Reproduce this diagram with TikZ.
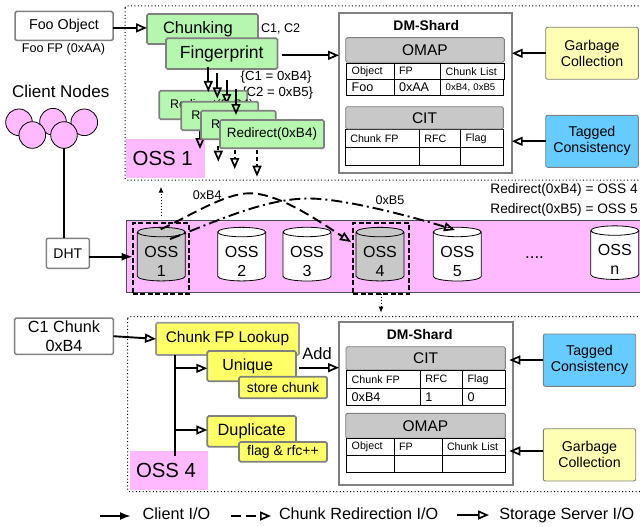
\documentclass[tikz,border=0pt]{standalone}
\usepackage{fontspec}
\setmainfont{Liberation Sans}
\usetikzlibrary{arrows.meta,shapes.geometric,positioning}
\definecolor{fgreen}{HTML}{B6F7B0}
\definecolor{fyellow}{HTML}{FFFF66}
\definecolor{fcream}{HTML}{FFFFB3}
\definecolor{fblue}{HTML}{66CCFF}
\definecolor{fpink}{HTML}{FFB9FF}
\definecolor{fgray}{HTML}{C8C8C8}
\definecolor{fedge}{HTML}{808080}
\newcommand{\fs}[2]{\fontsize{#1}{#2}\selectfont}
\tikzset{
  flat/.style={inner sep=0pt,outer sep=0pt},
  greenbox/.style={flat,draw=fedge,line width=1.7pt,rounded corners=1.5pt,fill=fgreen,font=\fs{16.5}{18}},
  yellowbox/.style={greenbox,fill=fyellow},
  whitebox/.style={greenbox,fill=white,line width=1.5pt},
  sidebox/.style={flat,draw=fedge,line width=.9pt,rounded corners=2pt,align=center,font=\fs{14.2}{16}},
  headbox/.style={flat,draw=fedge,line width=.9pt,rounded corners=1.5pt,fill=fgray,font=\fs{15.5}{18}},
  cell/.style={flat,draw,line width=.9pt,anchor=north west,align=left,inner xsep=5pt,font=\fs{10.7}{12}},
  bigcell/.style={cell,font=\fs{12.6}{14}},
  store/.style={flat,cylinder,shape border rotate=90,aspect=.28,draw,line width=.8pt,align=center,font=\fs{16}{19}},
  tag/.style={flat,fill=fpink},
  tagtext/.style={flat,anchor=west,font=\fs{20.4}{22}},
  note/.style={flat,font=\fs{12.6}{14}},
  client/.style={-{Latex[length=11pt,width=8pt]},line width=1.9pt},
  server/.style={-{Triangle[open,length=11pt,width=9pt,line width=1.7pt]},line width=1.9pt},
  redirect/.style={server,dash pattern=on 10pt off 5pt},
  hop/.style={-{Latex[length=6pt,width=5pt]},line width=1pt,dash pattern=on 1pt off 2pt},
  frame/.style={line width=1pt,dash pattern=on 1pt off 2.4pt,rounded corners=2pt},
  pick/.style={flat,draw,line width=2pt,dash pattern=on 5pt off 2.5pt,minimum width=56pt,minimum height=71pt,anchor=north west},
  legend/.style={flat,anchor=west,font=\fs{16.2}{18}},
}
\begin{document}
\begin{tikzpicture}[x=1pt,y=-1pt]
\useasboundingbox (0,0) rectangle (640,527);

\draw[frame] (125,6) rectangle (642,180);
\node[tag,minimum width=79pt,minimum height=38.7pt] (ossonetag) at (165.5,158.3) {};
\node[tagtext] (ossone) at (132.7,158) {OSS 1};

\node[whitebox,minimum width=98pt,minimum height=29pt,font=\fs{14.3}{16}] (foo) at (64,26) {Foo Object};
\node[note] (foofp) at (63.5,49.5) {Foo FP (0xAA)};
\node[greenbox,minimum height=30pt,anchor=north west,text width=79pt,inner xsep=16pt,align=left] (chunking) at (147,14) {\raisebox{2pt}{Chunking}};
\node[note,anchor=west] (cpair) at (261,28.5) {C1, C2};
\node[greenbox,minimum width=111.5pt,minimum height=30.7pt,anchor=north west,font=\fs{17.5}{19}] (fingerprint) at (166,38.3) {Fingerprint};
\node[note,anchor=west,font=\fs{13.2}{15}] (cfpa) at (240.7,76.7) {\{C1 = 0xB4\}};
\node[note,anchor=west,font=\fs{13.2}{15}] (cfpb) at (242.3,93) {\{C2 = 0xB5\}};

\node[greenbox,minimum width=88pt,minimum height=28.6pt,anchor=north west] (reda) at (159.3,90.7) {};
\node[flat,anchor=west,font=\fs{12.5}{14}] (redatext) at (170,105) {Redirect(0xB4)};
\foreach \x/\a/\b in {208.3/66.7/92,217.3/73/98.5,226.7/80/105}
  \draw[server] (\x,\a) -- (\x,\b);
\coordinate (dropa) at (200,128);
\coordinate (dropb) at (200,149);
\draw[server] (dropa) -- (dropb);
\foreach \name/\x/\y/\w in {redb/181.3/101.7/77,redc/201/110.7/74.7}{
  \node[greenbox,minimum width=\w pt,minimum height=28.6pt,anchor=north west] (\name) at (\x,\y) {};
  \node[flat,font=\fs{12.5}{14},anchor=west] (\name text) at ([xshift=10pt]\name.west) {Redirect(0xB4)};
}
\draw[server] (236,89.3) -- (236,115);
\foreach \x/\a/\b in {218.3/146/161.7,234.7/150/169,257/150/176.7}
  \draw[server,dash pattern=on 4pt off 3pt] (\x,\a) -- (\x,\b);
\node[greenbox,minimum width=104pt,minimum height=28.3pt,anchor=north west,font=\fs{13.5}{15}] (redd) at (220,120) {Redirect(0xB4)};

\node[flat,draw=fedge,line width=1.7pt,minimum width=172.7pt,minimum height=160pt,anchor=north west] (dmtop) at (339,13.3) {};
\node[flat,font=\bfseries\fs{13.9}{15}] (dmtoptext) at (426.3,26) {DM-Shard};
\node[headbox,minimum width=158.6pt,minimum height=24.6pt,anchor=north west] (omaptop) at (345.7,37.7) {OMAP};
\foreach \name/\x/\y/\w/\h/\s/\t in {
  obja/346.7/63.3/37.3/16/cell/Object,fpa/394/63.3/36.7/16/cell/FP,cla/440.7/63.3/53.3/16/cell/Chunk List,
  objb/346.7/79.3/37.3/16/bigcell/Foo,fpb/394/79.3/36.7/16/bigcell/0xAA,
  rfhead/345.3/129.3/64/18.4/cell/Chunk FP,rfrfc/419.3/129.3/31.4/18.4/cell/RFC,rfflag/460.7/129.3/32.6/18.4/cell/Flag,
  cfpx/345.3/147.7/64/17.6/cell/,rfcx/419.3/147.7/31.4/17.6/cell/,flagx/460.7/147.7/32.6/17.6/cell/}
  \node[\s,text width=\w pt,minimum height=\h pt] (\name) at (\x,\y) {\t};
\node[cell,text width=52.6pt,minimum height=16pt,font=\fs{9.6}{11}] (clb) at (440.7,79.3) {0xB4, 0xB5};
\node[headbox,minimum width=157.6pt,minimum height=22.3pt,anchor=north west] (cittop) at (345.7,106.7) {CIT};
\node[sidebox,fill=fcream,minimum width=92.6pt,minimum height=52pt,anchor=north west] (gctop) at (545.7,27.3) {Garbage\\Collection};
\node[sidebox,fill=fblue,minimum width=92.6pt,minimum height=52pt,anchor=north west] (tctop) at (545.7,115.3) {Tagged\\Consistency};

\draw[server] (foo.east) ++(0,1.9) -- (chunking.west |- 0,27.9);
\coordinate (fpout) at (281.7,55.3);
\draw[server] (fpout) -- (dmtop.west |- fpout);
\draw[server] (gctop.west) -- (dmtop.east |- gctop.west);
\draw[server] (tctop.west) -- (dmtop.east |- tctop.west);

\node[flat,font=\fs{17}{19}] (clients) at (60.7,91.7) {Client Nodes};
\foreach \name/\x/\y in {clienta/19/122.3,clientb/53/121.7,clientc/84.3/122.3,clientd/32.3/135,cliente/64/135}
  \node[flat,circle,draw,line width=.8pt,fill=fpink,minimum size=26.6pt] (\name) at (\x,\y) {};
\node[sidebox,fill=white,minimum width=43pt,minimum height=30pt,draw=fedge,line width=1.4pt,font=\fs{14}{16}] (dht) at (67.8,253.3) {DHT};
\draw[line width=1.9pt] (cliente) -- (cliente |- dht.north);

\node[flat,draw=black!70,line width=.9pt,fill=fpink,minimum width=520pt,minimum height=72pt,anchor=north west] (row) at (126,220.7) {};
\foreach \name/\x/\y/\n/\c in {ossa/161.3/256.7/1/fgray,ossb/241.7/256.7/2/white,ossc/307/256.7/3/white,ossd/380/256.7/4/fgray,osse/457.3/256.7/5/white,ossn/614.8/255.2/n/white}
  \node[store,fill=\c,minimum width=48pt,minimum height=53.3pt] (\name) at (\x,\y) {\rule{0pt}{20pt}OSS\\\n};
\node[flat,anchor=base,font=\fs{17}{19}] (dots) at (534.5,258.5) {....};
\node[pick] (picka) at (132.7,223.3) {};
\node[pick] (pickd) at (353,223.3) {};
\coordinate (dhtout) at (89.3,256.7);
\draw[client] (dhtout) -- (picka.west |- dhtout);
\coordinate (upfrom) at (161,216);
\coordinate (upto) at (161,186.7);
\draw[hop] (upfrom) -- (upto);
\coordinate (downto) at (381,312.7);
\draw[hop] (pickd.south -| downto) -- (downto);
\coordinate (arca) at (160.7,229.3);
\coordinate (arcb) at (170,239);
\coordinate (arcc) at (351,242);
\coordinate (arcd) at (455,230);
\draw[server,dash pattern=on 10pt off 5pt] (arca) .. controls (190,216) and (225,193) .. (250,193.3) .. controls (280,193.5) and (320,222) .. (arcc);
\draw[server,dash pattern=on 11pt off 4pt on 2pt off 4pt] (arcb) .. controls (215,222) and (265,198) .. (310,198.5) .. controls (345,199) and (410,216) .. (arcd);
\node[note] (binfour) at (207.3,195) {0xB4};
\node[note] (binfive) at (390,199.7) {0xB5};
\node[note,anchor=east,font=\fs{13.7}{15}] (rfour) at (637.7,190) {Redirect(0xB4) = OSS 4};
\node[note,anchor=east,font=\fs{13.7}{15}] (rfive) at (637.7,210) {Redirect(0xB5) = OSS 5};

\draw[frame] (127.7,316.7) rectangle (642,491.7);
\node[tag,minimum width=78pt,minimum height=39pt] (ossfourtag) at (169,470.5) {};
\node[tagtext] (ossfour) at (136,470) {OSS 4};
\node[whitebox,minimum width=98.6pt,minimum height=36.3pt,align=center,font=\fs{16.2}{18.5}] (chunkin) at (64,336.2) {C1 Chunk\\0xB4};
\node[yellowbox,draw=black!40,minimum width=143pt,minimum height=32.3pt,font=\fs{15.4}{17}] (lookup) at (227.5,338.9) {Chunk FP Lookup};
\node[yellowbox,minimum height=30.3pt,anchor=north west,text width=58.7pt,inner xsep=15pt,align=left,font=\fs{16}{18}] (unique) at (207.3,351) {Unique};
\node[yellowbox,minimum width=88pt,minimum height=21.6pt,anchor=north west,font=\fs{14}{16}] (storech) at (239,376.7) {store chunk};
\node[yellowbox,minimum width=88.7pt,minimum height=30.7pt,anchor=north west,font=\fs{16.3}{18}] (dup) at (207.3,416) {Duplicate};
\node[yellowbox,minimum width=88pt,minimum height=19.7pt,anchor=north west,font=\fs{14}{16}] (flag) at (239,442) {flag \& rfc++};
\node[flat,font=\fs{16.5}{18}] (add) at (317,353.3) {Add};

\node[flat,draw=fedge,line width=1.7pt,minimum width=173.7pt,minimum height=162.4pt,anchor=north west] (dmbot) at (339,322.3) {};
\node[flat,font=\bfseries\fs{13.9}{15}] (dmbottext) at (419.7,335) {DM-Shard};
\node[headbox,minimum width=159.3pt,minimum height=23.3pt,anchor=north west] (citbot) at (346,346.7) {CIT};
\node[headbox,minimum width=159.6pt,minimum height=25pt,anchor=north west] (omapbot) at (345.7,413.3) {OMAP};
\foreach \name/\x/\y/\w/\h/\s/\t in {
  rghead/346.7/370.3/63.6/18/cell/Chunk FP,rgrfc/420.3/370.3/32.4/18/cell/RFC,rgflag/462.7/370.3/32.6/18/cell/Flag,
  rgval/346.7/388.3/63.6/17.4/bigcell/0xB4,rgone/420.3/388.3/32.4/17.4/bigcell/1,rgzero/462.7/388.3/32.6/17.4/bigcell/0,
  objc/346.7/438.3/37.3/17.4/cell/Object,fpc/394/438.3/38/17.4/cell/FP,clc/442/438.3/53.3/17.4/cell/Chunk List,
  objd/346.7/455.7/37.3/16.6/cell/,fpd/394/455.7/38/16.6/cell/,cld/442/455.7/53.3/16.6/cell/}
  \node[\s,text width=\w pt,minimum height=\h pt] (\name) at (\x,\y) {\t};
\node[sidebox,fill=fblue,minimum width=92.4pt,minimum height=52.3pt,anchor=north west] (tcbot) at (543.3,334) {Tagged\\Consistency};
\node[sidebox,fill=fcream,minimum width=92.4pt,minimum height=52.3pt,anchor=north west] (gcbot) at (543.3,428.7) {Garbage\\Collection};

\draw[server] (chunkin.east) -- (lookup.west);
\coordinate (trunk) at (175,355);
\coordinate (trunkend) at (175,455.7);
\draw[line width=1.9pt] (trunk) -- (trunkend);
\coordinate (branchu) at (175,368.3);
\coordinate (branchd) at (175,430);
\draw[server] (branchu) -- (unique.west |- branchu);
\draw[server] (branchd) -- (dup.west |- branchd);
\coordinate (uniqueout) at (299.3,367.7);
\draw[server] (uniqueout) -- (dmbot.west |- uniqueout);
\draw[server] (tcbot.west |- 0,360) -- ([xshift=-3.4pt]dmbot.east |- 0,360);
\draw[server] (gcbot.west |- 0,451) -- ([xshift=-3.4pt]dmbot.east |- 0,451);

\coordinate (lega) at (100,516);
\coordinate (legb) at (131,516);
\coordinate (legc) at (230.7,516);
\coordinate (legd) at (271,516);
\coordinate (lege) at (456.7,515);
\coordinate (legf) at (489,515);
\draw[client] (lega) -- (legb);
\node[legend] (legclient) at (142.7,514) {Client I/O};
\draw[redirect] (legc) -- (legd);
\node[legend] (legredirect) at (279,514) {Chunk Redirection I/O};
\draw[server] (lege) -- (legf);
\node[legend] (legserver) at (499.3,515) {Storage Server I/O};
\end{tikzpicture}
\end{document}
